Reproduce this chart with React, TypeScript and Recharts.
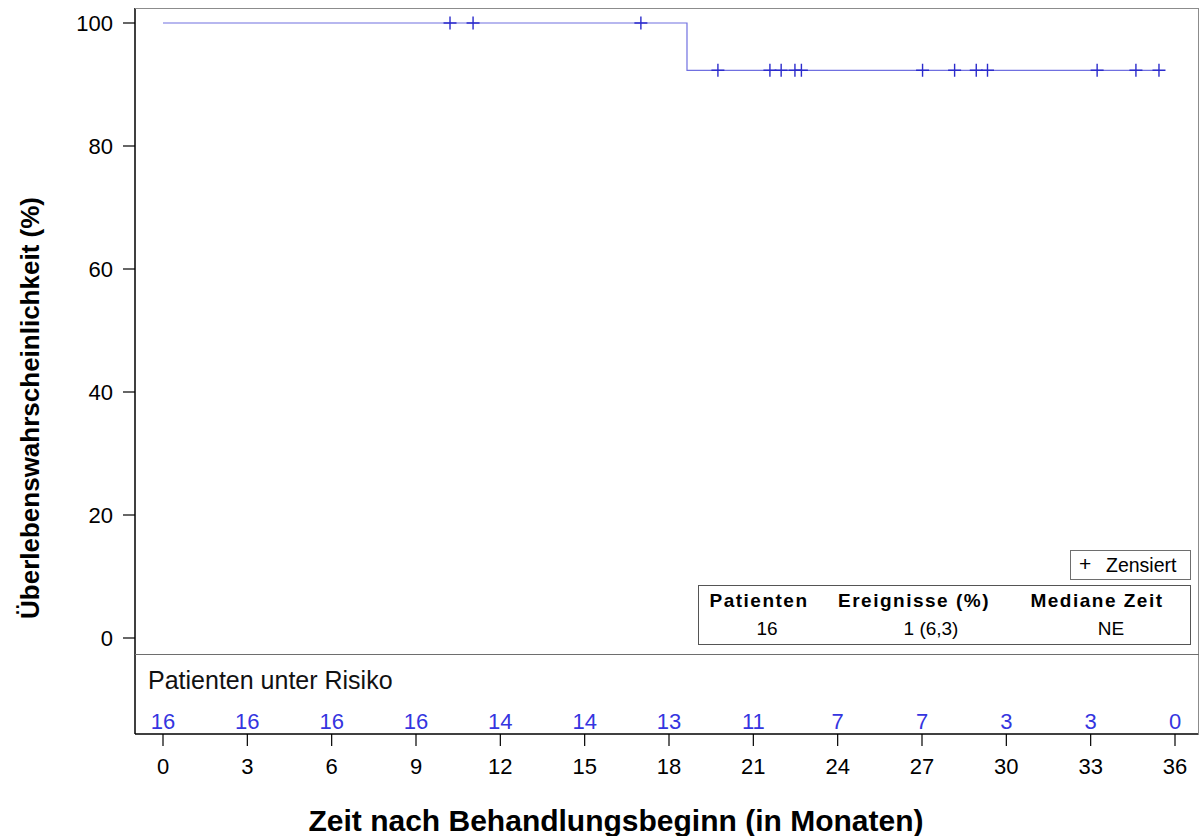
import { ComposedChart, Line, Scatter, XAxis, YAxis } from 'recharts';

document.body.style.margin = '0';

// Kaplan-Meier step curve (time in months, survival in %)
const survTimes = [0, 18.64, 35.43];
const survValues = [100, 92.31, 92.31];

// censored patients
const censorTimes = [10.21, 11.03, 17.0, 19.74, 21.59, 21.99, 22.48, 22.71, 27.02, 28.16, 28.93, 29.33, 33.23, 34.61, 35.43];
const censorValues = [100, 100, 100, 92.31, 92.31, 92.31, 92.31, 92.31, 92.31, 92.31, 92.31, 92.31, 92.31, 92.31, 92.31];

// patients at risk
const riskTimes = [0, 3, 6, 9, 12, 15, 18, 21, 24, 27, 30, 33, 36];
const riskCounts = [16, 16, 16, 16, 14, 14, 13, 11, 7, 7, 3, 3, 0];

const xTicks = [0, 3, 6, 9, 12, 15, 18, 21, 24, 27, 30, 33, 36];
const yTicks = [0, 20, 40, 60, 80, 100];

const FONT = '"Liberation Sans", Arial, sans-serif';
const LINE_COLOR = '#7070e0';
const MARK_COLOR = '#2b2bcc';
const RISK_COLOR = '#3535e0';

const survData = survTimes.map((t, i) => ({ t, s: survValues[i] }));
const censorData = censorTimes.map((t, i) => ({ t, s: censorValues[i] }));
// risk row sits on the bottom of its own hidden axis
const riskData = riskTimes.map((t, i) => ({ t, s: 0, n: riskCounts[i] }));

const CensorMark = (props: any) => {
  const { cx, cy } = props;
  if (cx == null || cy == null) return null;
  return (
    <path d={`M${cx - 6.5},${cy}h13M${cx},${cy - 6.5}v13`} stroke={MARK_COLOR} strokeWidth={1.4} fill="none" />
  );
};

const RiskLabel = (props: any) => {
  const { cx, cy, payload } = props;
  if (cx == null || cy == null) return null;
  return (
    <text x={cx} y={cy - 13} textAnchor="middle" dominantBaseline="central" fill={RISK_COLOR} fontSize={22} fontFamily={FONT}>
      {payload.n}
    </text>
  );
};

const YTitle = () => (
  <text
    x={30}
    y={408}
    transform="rotate(-90, 30, 408)"
    textAnchor="middle"
    dominantBaseline="central"
    fontSize={26}
    fontWeight="bold"
    fontFamily={FONT}
    fill="#000"
  >
    Überlebenswahrscheinlichkeit (%)
  </text>
);

const XTitle = () => (
  <text x={616} y={820} textAnchor="middle" dominantBaseline="central" fontSize={30} fontWeight="bold" fontFamily={FONT} fill="#000">
    Zeit nach Behandlungsbeginn (in Monaten)
  </text>
);

const cellHead: React.CSSProperties = {
  position: 'absolute',
  top: 4,
  transform: 'translateX(-50%)',
  fontWeight: 'bold',
  fontSize: 19,
  letterSpacing: 1.5,
  whiteSpace: 'nowrap',
};
const cellBody: React.CSSProperties = {
  position: 'absolute',
  top: 32,
  transform: 'translateX(-50%)',
  fontSize: 19,
  whiteSpace: 'nowrap',
};

export default function App() {
  return (
    <div style={{ position: 'relative', width: 1200, height: 836, fontFamily: FONT, background: '#fff' }}>
      <ComposedChart width={1200} height={836} margin={{ top: 8, right: 1, bottom: 0, left: 0 }}>
        <XAxis
          dataKey="t"
          type="number"
          domain={[0, 36]}
          ticks={xTicks}
          padding={{ left: 28, right: 24 }}
          height={102}
          tickSize={12}
          tickMargin={12}
          axisLine={{ stroke: '#000', strokeWidth: 1.5 }}
          tickLine={{ stroke: '#000', strokeWidth: 1.2 }}
          tick={{ fill: '#000', fontSize: 22, fontFamily: FONT }}
          label={<XTitle />}
        />
        <YAxis
          type="number"
          domain={[0, 100]}
          ticks={yTicks}
          padding={{ top: 15, bottom: 96 }}
          width={135}
          tickSize={12}
          tickMargin={10}
          axisLine={{ stroke: '#000', strokeWidth: 1.5 }}
          tickLine={{ stroke: '#000', strokeWidth: 1.2 }}
          tick={{ fill: '#000', fontSize: 22, fontFamily: FONT }}
          label={<YTitle />}
        />
        <YAxis yAxisId="risk" hide type="number" domain={[0, 1]} />
        <Line
          data={survData}
          dataKey="s"
          type="stepAfter"
          stroke={LINE_COLOR}
          strokeWidth={1.2}
          dot={false}
          activeDot={false}
          isAnimationActive={false}
        />
        <Scatter data={censorData} dataKey="s" shape={<CensorMark />} isAnimationActive={false} />
        <Scatter yAxisId="risk" data={riskData} dataKey="s" shape={<RiskLabel />} isAnimationActive={false} />
      </ComposedChart>

      {/* frame: gray top and right border, divider above the risk table */}
      <div style={{ position: 'absolute', left: 135, top: 8, width: 1063, height: 726, borderTop: '1px solid #8c8c8c', borderRight: '1px solid #8c8c8c', pointerEvents: 'none' }} />
      <div style={{ position: 'absolute', left: 135, top: 654, width: 1064, height: 0, borderTop: '1.5px solid #6e6e6e' }} />
      <div style={{ position: 'absolute', left: 148, top: 666, fontSize: 25, color: '#111', whiteSpace: 'nowrap' }}>Patienten unter Risiko</div>

      {/* legend */}
      <div style={{ position: 'absolute', left: 1070, top: 550, width: 119, height: 28, border: '1px solid #6e6e6e', background: '#fff', fontSize: 19.5 }}>
        <span style={{ position: 'absolute', left: 8, top: 1, fontSize: 21 }}>+</span>
        <span style={{ position: 'absolute', left: 35, top: 3 }}>Zensiert</span>
      </div>

      {/* summary table */}
      <div style={{ position: 'absolute', left: 698, top: 585, width: 491, height: 58, border: '1px solid #555', background: '#fff' }}>
        <div style={{ ...cellHead, left: 60 }}>Patienten</div>
        <div style={{ ...cellHead, left: 215 }}>Ereignisse (%)</div>
        <div style={{ ...cellHead, left: 398 }}>Mediane Zeit</div>
        <div style={{ ...cellBody, left: 68 }}>16</div>
        <div style={{ ...cellBody, left: 232 }}>1 (6,3)</div>
        <div style={{ ...cellBody, left: 412 }}>NE</div>
      </div>
    </div>
  );
}
